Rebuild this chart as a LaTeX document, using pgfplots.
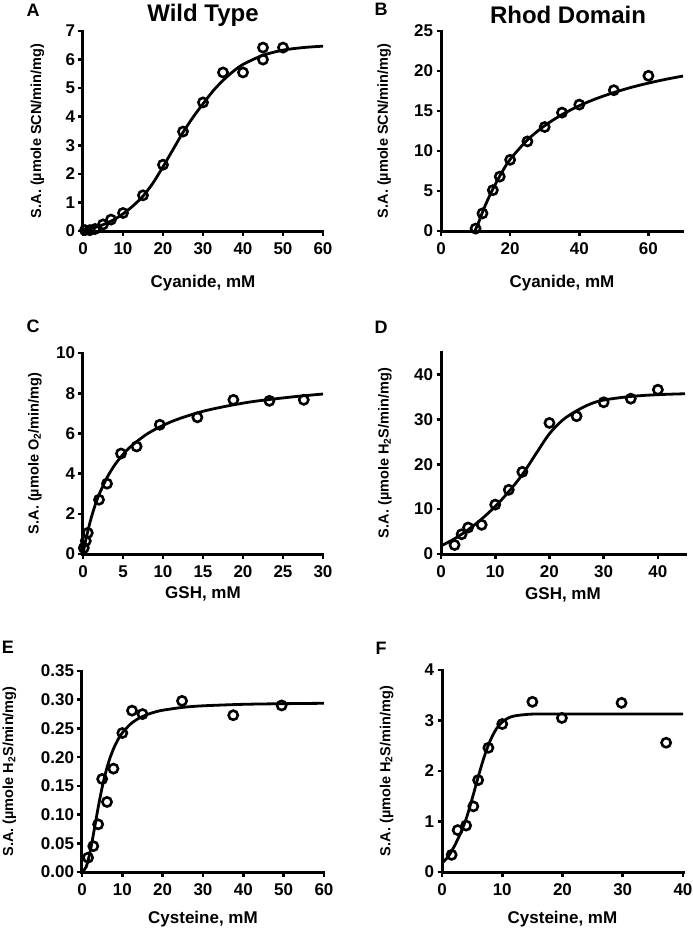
\documentclass[border=0pt]{standalone}
\usepackage{fontspec}
\setmainfont{Liberation Sans}
\usepackage{pgfplots}
\pgfplotsset{compat=1.18}

\newcommand{\fs}[1]{\fontsize{#1}{#1}\selectfont\bfseries}

\pgfplotsset{
  panel/.style={
    scale only axis, width=240pt, height=200pt,
    axis lines*=left,
    axis line style={-, line width=3pt, line cap=rect},
    tick align=outside, major tick length=4.5pt,
    tick style={line width=2.6pt, black},
    ticklabel style={font=\fs{17}},
    xticklabel style={yshift=-4pt},
    /pgf/number format/assume math mode=true,
    xlabel style={font=\fs{17}, anchor=center},
    ylabel style={font=\fs{14.5}, anchor=center},
    clip=false, enlargelimits=false,
  },
  curve/.style={black, line width=2.8pt, smooth, no marks},
  pts/.style={only marks, mark=o, mark size=4.6pt, mark options={line width=2.6pt, black}},
}

\begin{document}
\begin{tikzpicture}
\path[use as bounding box] (0pt,0pt) rectangle (693pt,-930pt);

% A: wild type, cyanide
\begin{axis}[panel, at={(83pt,-231pt)}, anchor=south west,
  xmin=0, xmax=60, ymin=0, ymax=7,
  xtick={0,10,...,60}, ytick={0,1,...,7},
  xlabel={Cyanide, mM}, ylabel={S.A. (µmole SCN/min/mg)},
  xlabel style={at={(axis description cs:0.5,-0.26)}},
  ylabel style={at={(axis description cs:-0.19,0.5)}}]
\addplot[curve] coordinates {
  (0,0.05) (2.5,0.1) (5,0.22) (7.5,0.38) (10,0.6) (12.5,0.88) (15,1.22)
  (17.5,1.68) (20,2.25) (22.5,2.85) (25,3.45) (27.5,3.98) (30,4.45)
  (32.5,4.9) (35,5.27) (37.5,5.58) (40,5.83) (45,6.15) (50,6.33) (55,6.42) (60,6.47)};
\addplot[pts] coordinates {
  (0.5,0.03) (1.7,0.03) (3,0.07) (5,0.23) (7,0.4) (10,0.63) (15,1.25)
  (20,2.32) (25,3.48) (30,4.5) (35,5.55) (40,5.55) (45,6.0) (45,6.42) (50,6.42)};
\end{axis}

% B: rhod domain, cyanide
\begin{axis}[panel, at={(441pt,-231pt)}, anchor=south west, width=242pt,
  xmin=0, xmax=70, ymin=0, ymax=25,
  xtick={0,20,40,60}, ytick={0,5,...,25},
  xlabel={Cyanide, mM}, ylabel={S.A. (µmole SCN/min/mg)},
  xlabel style={at={(axis description cs:0.5,-0.26)}},
  ylabel style={at={(axis description cs:-0.235,0.5)}}]
\addplot[curve] coordinates {
  (9.8,0) (11,1.2) (12,2.35) (13,3.4) (15,5.25) (17.5,7.25) (20,8.95)
  (25,11.38) (30,13.17) (35,14.55) (40,15.66) (45,16.56) (50,17.31)
  (55,17.95) (60,18.49) (65,18.96) (70,19.37)};
\addplot[pts] coordinates {
  (10,0.3) (12,2.2) (15,5.1) (17,6.8) (20,8.9) (25,11.2) (30,13.0)
  (35,14.8) (40,15.8) (50,17.6) (60,19.4)};
\end{axis}

% C: wild type, GSH
\begin{axis}[panel, at={(83pt,-554pt)}, anchor=south west, height=201pt,
  xmin=0, xmax=30, ymin=0, ymax=10,
  xtick={0,5,...,30}, ytick={0,2,...,10},
  xlabel={GSH, mM}, ylabel={S.A. (µmole O\textsubscript{2}/min/mg)},
  xlabel style={at={(axis description cs:0.5,-0.2)}},
  ylabel style={at={(axis description cs:-0.2,0.5)}}]
\addplot[curve] coordinates {
  (0,0) (0.25,0.52) (0.5,0.97) (1,1.76) (1.5,2.41) (2,2.95) (3,3.8)
  (4,4.45) (5,4.95) (6,5.36) (8,5.97) (10,6.4) (12,6.73) (15,7.1)
  (18,7.36) (21,7.57) (24,7.72) (27,7.85) (30,7.96)};
\addplot[pts] coordinates {
  (0.1,0.3) (0.35,0.65) (0.6,1.05) (2,2.7) (3,3.5) (4.75,5.0) (6.7,5.35)
  (9.6,6.43) (14.3,6.8) (18.8,7.67) (23.3,7.62) (27.6,7.67)};
\end{axis}

% D: rhod domain, GSH
\begin{axis}[panel, at={(441pt,-554pt)}, anchor=south west, width=244pt, height=202pt,
  xmin=0, xmax=45, ymin=0, ymax=45,
  xtick={0,10,...,40}, ytick={0,10,...,40},
  xlabel={GSH, mM}, ylabel={S.A. (µmole H\textsubscript{2}S/min/mg)},
  xlabel style={at={(axis description cs:0.5,-0.2)}},
  ylabel style={at={(axis description cs:-0.23,0.5)}}]
\addplot[curve] coordinates {
  (0,1.8) (2.5,3.4) (5,5.4) (7.5,7.8) (10,10.6) (12.5,13.9) (15,17.7)
  (17.5,22.3) (20,26.8) (22.5,29.9) (25,31.9) (27.5,33.4) (30,34.3)
  (35,35.1) (40,35.5) (45,35.7)};
\addplot[pts] coordinates {
  (2.5,2.0) (3.8,4.4) (5,5.9) (7.5,6.5) (10,11.0) (12.5,14.3) (15,18.3)
  (20,29.2) (25,30.7) (30,33.8) (35,34.6) (40,36.6)};
\end{axis}

% E: wild type, cysteine
\begin{axis}[panel, at={(82pt,-872pt)}, anchor=south west, width=242pt, height=201pt,
  xmin=0, xmax=60, ymin=0, ymax=0.35,
  xtick={0,10,...,60}, ytick={0,0.05,0.1,0.15,0.2,0.25,0.3,0.35},
  yticklabels={0.00,0.05,0.10,0.15,0.20,0.25,0.30,0.35},
  xlabel={Cysteine, mM}, ylabel={S.A. (µmole H\textsubscript{2}S/min/mg)},
  xlabel style={at={(axis description cs:0.5,-0.235)}},
  ylabel style={at={(axis description cs:-0.3,0.5)}}]
\addplot[curve] coordinates {
  (0,0) (1,0.0083) (2,0.0347) (3,0.0724) (4,0.112) (5,0.1475) (6,0.1767)
  (7,0.1997) (8,0.2176) (9,0.2315) (10,0.2423) (12,0.2575) (14,0.2673)
  (16,0.2738) (18,0.2784) (20,0.2817) (25,0.2867) (30,0.2894) (40,0.292)
  (50,0.2931) (60,0.2938)};
\addplot[pts] coordinates {
  (1.5,0.025) (2.8,0.045) (4,0.083) (5,0.162) (6.2,0.122) (7.8,0.18)
  (10,0.242) (12.4,0.281) (15,0.275) (24.8,0.298) (37.5,0.273) (49.5,0.29)};
\end{axis}

% F: rhod domain, cysteine
\begin{axis}[panel, at={(442pt,-872pt)}, anchor=south west, width=241pt, height=202pt,
  xmin=0, xmax=40, ymin=0, ymax=4,
  xtick={0,10,...,40}, ytick={0,1,...,4},
  xlabel={Cysteine, mM}, ylabel={S.A. (µmole H\textsubscript{2}S/min/mg)},
  xlabel style={at={(axis description cs:0.5,-0.235)}},
  ylabel style={at={(axis description cs:-0.23,0.5)}}]
\addplot[curve] coordinates {
  (0,0.18) (1,0.3) (2,0.5) (3,0.75) (4,1.05) (5,1.45) (6,1.88) (7,2.28)
  (8,2.6) (9,2.83) (10,2.97) (11,3.05) (12,3.09) (14,3.12) (16,3.13)
  (20,3.13) (30,3.13) (40,3.13)};
\addplot[pts] coordinates {
  (1.6,0.34) (2.6,0.83) (4,0.92) (5.2,1.3) (6,1.82) (7.7,2.46) (10,2.93)
  (15,3.37) (19.9,3.05) (29.8,3.35) (37.2,2.56)};
\end{axis}

% titles and panel letters
\node[font=\fs{24}] at (203pt,-15pt) {Wild Type};
\node[font=\fs{24}] at (568pt,-15pt) {Rhod Domain};
\node[font=\fs{18}] at (33pt,-10pt) {A};
\node[font=\fs{18}] at (381pt,-9pt) {B};
\node[font=\fs{18}] at (33pt,-326pt) {C};
\node[font=\fs{18}] at (381pt,-327pt) {D};
\node[font=\fs{18}] at (8pt,-647pt) {E};
\node[font=\fs{18}] at (381pt,-648pt) {F};
\end{tikzpicture}
\end{document}
